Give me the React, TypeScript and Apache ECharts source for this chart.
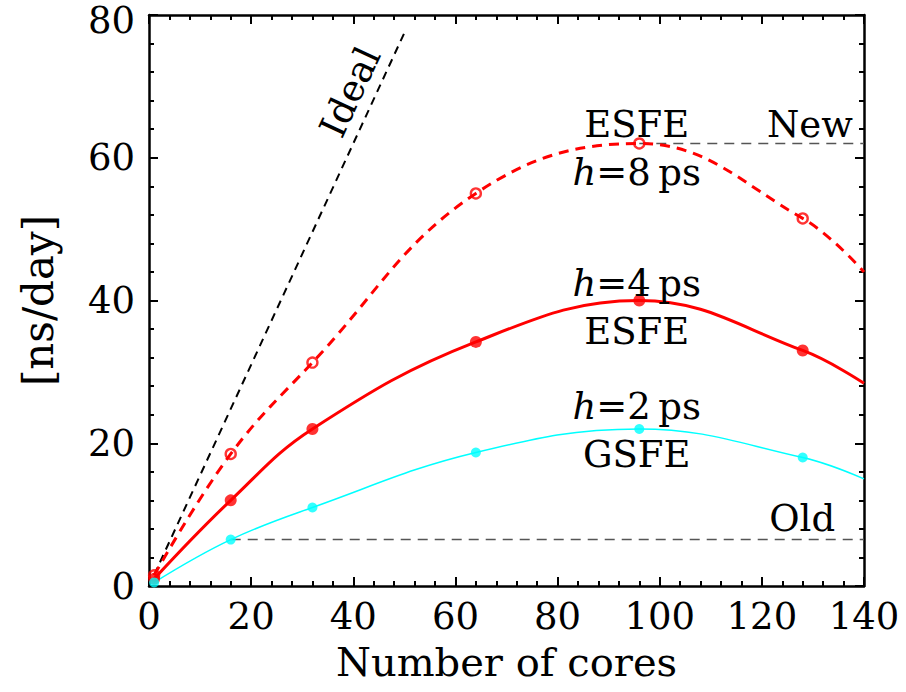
import React, { useEffect, useRef } from "react";
import * as echarts from "echarts";

const cores = [1, 16, 32, 64, 96, 128];
const h8 = [1.5, 18.5, 31.3, 55, 62, 51.5];
const h4 = [1.0, 12, 22, 34.2, 40, 33];
const h2 = [0.5, 6.5, 11, 18.7, 22, 18];
const curveEndX = 140;
const h8End = 44;
const h4End = 28.4;
const h2End = 15;
const idealX = [1, 50];
const idealY = [1.55, 77.5];
const xTicks = [0, 20, 40, 60, 80, 100, 120, 140];
const yTicks = [0, 20, 40, 60, 80];

const FONT = "DejaVu Serif";

const annotations: { text: string; x: number; y: number; rot?: number }[] = [
  { text: "ESFE", x: 95.5, y: 64.7 },
  { text: "{i|h}=8\u2009ps", x: 95.5, y: 58.0 },
  { text: "{i|h}=4\u2009ps", x: 95.5, y: 42.4 },
  { text: "ESFE", x: 95.5, y: 35.7 },
  { text: "{i|h}=2\u2009ps", x: 95.5, y: 25.1 },
  { text: "GSFE", x: 95.5, y: 18.4 },
  { text: "New", x: 129.4, y: 64.7 },
  { text: "Old", x: 127.9, y: 9.5 },
  { text: "Ideal", x: 39.4, y: 69.2, rot: 65 },
];

const RED = "#ff0000";
const CYAN = "#00ffff";

function pairs(xs: number[], ys: number[]) {
  return xs.map((x, i) => [x, ys[i]]);
}

export default function App() {
  const ref = useRef<HTMLDivElement>(null);
  useEffect(() => {
    document.body.style.margin = "0";
    if (!ref.current) return;
    const chart = echarts.init(ref.current, null, { renderer: "svg" });
    const axisCommon = {
      type: "value" as const,
      axisLine: { show: true, onZero: false, lineStyle: { color: "#000", width: 2.5 } },
      axisTick: { show: true, inside: true, length: 9, lineStyle: { color: "#000", width: 2 } },
      minorTick: { show: true, splitNumber: 5, length: 5, lineStyle: { color: "#000", width: 2 } },
      splitLine: { show: false },
    };
    const labelStyle = { color: "#000", fontFamily: FONT, fontSize: 37, lineHeight: 29 };
    const yMax = yTicks[yTicks.length - 1];
    chart.setOption({
      animation: false,
      grid: { left: 149, right: 42, top: 15, bottom: 106, containLabel: false, outerBoundsMode: "none" },
      xAxis: [
        {
          ...axisCommon,
          min: 0,
          max: 140,
          interval: 20,
          position: "bottom",
          axisLabel: { ...labelStyle, margin: 16, formatter: (v: number) => (xTicks.includes(v) ? String(v) : "") },
          name: "Number of cores",
          nameLocation: "middle",
          nameGap: 56,
          nameTextStyle: { color: "#000", fontFamily: FONT, fontSize: 40 },
        },
        {
          ...axisCommon,
          min: 0,
          max: 140,
          interval: 20,
          position: "top",
          axisLabel: { show: false },
        },
      ],
      yAxis: [
        {
          ...axisCommon,
          min: 0,
          max: yMax,
          interval: 20,
          position: "left",
          axisLabel: {
            ...labelStyle,
            margin: 14,
            formatter: (v: number) => (yTicks.includes(v) && v !== yMax ? String(v) : ""),
          },
          name: "[ns/day]",
          nameLocation: "middle",
          nameGap: 90,
          nameRotate: 90,
          nameTextStyle: { color: "#000", fontFamily: FONT, fontSize: 42 },
        },
        {
          ...axisCommon,
          min: 0,
          max: yMax,
          interval: 20,
          position: "right",
          axisLabel: { show: false },
        },
      ],
      series: [
        {
          type: "line",
          data: pairs(idealX, idealY),
          symbol: "none",
          lineStyle: { color: "#000", width: 2, type: [8, 6] },
          z: 2,
        },
        {
          type: "line",
          data: [[cores[4], h8[4]], [curveEndX, h8[4]]],
          symbol: "none",
          lineStyle: { color: "#555", width: 1.5, type: [10, 7] },
          z: 1,
        },
        {
          type: "line",
          data: [[cores[1], h2[1]], [curveEndX, h2[1]]],
          symbol: "none",
          lineStyle: { color: "#555", width: 1.5, type: [10, 7] },
          z: 1,
        },
        {
          type: "line",
          data: [...pairs(cores, h8), [curveEndX, h8End]],
          symbol: "none",
          smooth: 0.4,
          lineStyle: { color: RED, width: 3, type: [10, 7] },
          z: 3,
        },
        {
          type: "line",
          data: [...pairs(cores, h4), [curveEndX, h4End]],
          symbol: "none",
          smooth: 0.4,
          lineStyle: { color: RED, width: 3 },
          z: 3,
        },
        {
          type: "line",
          data: [...pairs(cores, h2), [curveEndX, h2End]],
          symbol: "none",
          smooth: 0.4,
          lineStyle: { color: CYAN, width: 1.5 },
          z: 3,
        },
        {
          type: "scatter",
          data: pairs(cores, h8),
          symbol: "circle",
          symbolSize: 10,
          itemStyle: { color: "transparent", borderColor: RED, borderWidth: 2.4 },
          z: 4,
        },
        {
          type: "scatter",
          data: pairs(cores, h4),
          symbol: "circle",
          symbolSize: 12,
          itemStyle: { color: RED },
          z: 4,
        },
        {
          type: "scatter",
          data: pairs(cores, h2),
          symbol: "circle",
          symbolSize: 10,
          itemStyle: { color: CYAN },
          z: 4,
        },
      ],
    });
    const graphics: any[] = annotations.map((a) => {
      const p = chart.convertToPixel({ gridIndex: 0 }, [a.x, a.y]) as number[];
      return {
        type: "text",
        x: p[0],
        y: p[1],
        rotation: a.rot ? (a.rot * Math.PI) / 180 : 0,
        z: 10,
        style: {
          text: a.text,
          fill: "#000",
          fontFamily: FONT,
          fontSize: 37,
          align: "center",
          verticalAlign: "middle",
          rich: {
            i: { fontStyle: "italic", fontFamily: FONT, fontSize: 37, fill: "#000" },
          },
        },
      };
    });
    const topTick = chart.convertToPixel({ gridIndex: 0 }, [0, yMax]) as number[];
    graphics.push({
      type: "text",
      x: topTick[0] - 14,
      y: topTick[1] + 5,
      z: 10,
      style: {
        text: String(yMax),
        fill: "#000",
        fontFamily: FONT,
        fontSize: 37,
        align: "right",
        verticalAlign: "middle",
      },
    });
    chart.setOption({ graphic: graphics });
    return () => chart.dispose();
  }, []);
  return <div ref={ref} style={{ width: 906, height: 692 }} />;
}
